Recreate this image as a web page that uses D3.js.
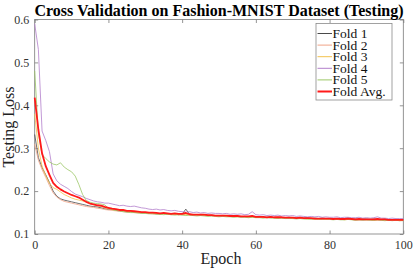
<!DOCTYPE html>
<html>
<head>
<meta charset="utf-8">
<script src="https://cdn.jsdelivr.net/npm/d3@7"></script>
<style>
  body { margin: 0; background: #fff; }
  text { font-family: "Liberation Serif", "Times New Roman", serif; }
</style>
</head>
<body>
<script>
var width = 415;
var height = 271;

// loss values per epoch, 0..100
var fold1 = [0.332,0.278,0.255,0.238,0.220,0.200,0.188,0.182,0.179,0.177,0.175,0.173,0.171,0.169,0.167,0.165,0.164,0.163,0.161,0.159,
  0.157,0.158,0.155,0.154,0.153,0.152,0.152,0.150,0.151,0.149,0.149,0.148,0.149,0.147,0.147,0.148,0.146,0.146,0.147,0.145,
  0.146,0.158,0.146,0.145,0.145,0.144,0.145,0.143,0.144,0.143,0.142,0.143,0.142,0.141,0.142,0.141,0.140,0.141,0.140,0.141,
  0.139,0.140,0.139,0.139,0.140,0.138,0.139,0.138,0.138,0.139,0.137,0.138,0.137,0.137,0.138,0.136,0.137,0.136,0.137,0.136,
  0.136,0.135,0.136,0.135,0.136,0.137,0.135,0.135,0.134,0.135,0.135,0.134,0.135,0.134,0.134,0.135,0.133,0.134,0.134,0.133,0.133];
var fold2 = [0.310,0.272,0.250,0.232,0.213,0.196,0.186,0.180,0.176,0.174,0.172,0.170,0.168,0.166,0.164,0.163,0.162,0.160,0.159,0.157,
  0.156,0.155,0.154,0.153,0.152,0.151,0.150,0.150,0.149,0.149,0.148,0.148,0.147,0.147,0.146,0.147,0.146,0.145,0.146,0.145,
  0.145,0.146,0.144,0.145,0.144,0.143,0.144,0.143,0.142,0.143,0.142,0.141,0.142,0.141,0.140,0.141,0.140,0.140,0.139,0.140,
  0.139,0.139,0.138,0.139,0.138,0.138,0.137,0.138,0.137,0.137,0.137,0.136,0.137,0.136,0.136,0.136,0.135,0.136,0.135,0.135,
  0.135,0.134,0.135,0.134,0.134,0.134,0.134,0.133,0.134,0.133,0.133,0.134,0.133,0.133,0.132,0.133,0.132,0.133,0.132,0.132,0.132];
var fold3 = [0.380,0.300,0.258,0.236,0.218,0.208,0.204,0.198,0.192,0.188,0.184,0.181,0.179,0.177,0.174,0.171,0.168,0.166,0.164,0.161,
  0.159,0.157,0.156,0.155,0.154,0.153,0.152,0.151,0.150,0.150,0.149,0.149,0.148,0.148,0.147,0.147,0.146,0.147,0.146,0.145,
  0.146,0.145,0.145,0.144,0.145,0.144,0.143,0.144,0.143,0.142,0.143,0.142,0.141,0.142,0.141,0.140,0.141,0.140,0.140,0.139,
  0.140,0.139,0.139,0.138,0.139,0.138,0.137,0.138,0.137,0.137,0.136,0.137,0.136,0.136,0.135,0.136,0.135,0.135,0.136,0.134,
  0.135,0.134,0.134,0.135,0.133,0.134,0.134,0.133,0.133,0.134,0.133,0.133,0.132,0.133,0.133,0.132,0.133,0.132,0.132,0.131,0.132];
var fold4 = [0.590,0.530,0.340,0.318,0.292,0.240,0.224,0.216,0.211,0.206,0.199,0.193,0.190,0.187,0.183,0.180,0.177,0.175,0.174,0.172,
  0.172,0.170,0.168,0.166,0.167,0.165,0.164,0.165,0.163,0.161,0.160,0.158,0.157,0.158,0.156,0.157,0.155,0.154,0.155,0.153,
  0.152,0.151,0.152,0.150,0.151,0.149,0.150,0.148,0.149,0.148,0.148,0.147,0.148,0.146,0.147,0.146,0.147,0.145,0.146,0.152,
  0.145,0.144,0.145,0.143,0.144,0.143,0.144,0.142,0.143,0.142,0.143,0.141,0.142,0.141,0.140,0.141,0.140,0.141,0.139,0.140,
  0.139,0.139,0.140,0.138,0.139,0.139,0.138,0.138,0.139,0.137,0.138,0.137,0.138,0.140,0.137,0.137,0.136,0.137,0.136,0.136,0.136];
var fold5 = [0.480,0.335,0.285,0.276,0.268,0.263,0.261,0.266,0.256,0.250,0.245,0.235,0.215,0.192,0.178,0.174,0.172,0.171,0.170,0.168,
  0.160,0.157,0.155,0.154,0.152,0.151,0.150,0.150,0.149,0.148,0.148,0.147,0.147,0.146,0.146,0.145,0.146,0.145,0.144,0.145,
  0.144,0.143,0.144,0.143,0.142,0.143,0.142,0.141,0.142,0.141,0.140,0.141,0.140,0.140,0.139,0.140,0.139,0.139,0.138,0.139,
  0.138,0.138,0.137,0.138,0.137,0.137,0.136,0.137,0.136,0.136,0.136,0.135,0.136,0.135,0.135,0.134,0.135,0.134,0.134,0.135,
  0.134,0.133,0.134,0.133,0.133,0.134,0.133,0.132,0.133,0.132,0.133,0.132,0.132,0.133,0.132,0.131,0.132,0.131,0.132,0.131,0.131];
var foldAvg = [0.418,0.343,0.288,0.258,0.238,0.219,0.210,0.204,0.199,0.195,0.191,0.188,0.185,0.180,0.175,0.171,0.169,0.167,0.166,0.163,
  0.161,0.159,0.158,0.156,0.156,0.154,0.154,0.153,0.152,0.151,0.151,0.150,0.150,0.149,0.148,0.149,0.148,0.147,0.148,0.147,
  0.147,0.149,0.146,0.145,0.145,0.145,0.145,0.144,0.144,0.143,0.143,0.143,0.143,0.142,0.142,0.142,0.141,0.141,0.141,0.142,
  0.140,0.140,0.140,0.139,0.140,0.139,0.139,0.139,0.138,0.138,0.138,0.137,0.138,0.137,0.137,0.137,0.136,0.136,0.136,0.136,
  0.136,0.135,0.136,0.135,0.135,0.136,0.135,0.134,0.135,0.134,0.134,0.134,0.134,0.135,0.134,0.134,0.133,0.133,0.133,0.133,0.133];

var seriesNames = ['Fold 1', 'Fold 2', 'Fold 3', 'Fold 4', 'Fold 5', 'Fold Avg.'];
var seriesData = [fold1, fold2, fold3, fold4, fold5, foldAvg];
var seriesColors = ['#4a4a4a', '#f0a386', '#f3c24e', '#b27fcb', '#9cc767', '#ff1a1a'];
var seriesWidths = [0.8, 0.8, 0.8, 0.8, 0.8, 1.8];

var xTicks = [0, 20, 40, 60, 80, 100];
var yTicks = [0.1, 0.2, 0.3, 0.4, 0.5, 0.6];

var margin = {left: 34.7, right: 11.7, top: 19.5, bottom: 37};
var serif = '"Liberation Serif", "Times New Roman", serif';

var svg = d3.select('body')
    .append('svg')
    .attr('width', width)
    .attr('height', height);

var x = d3.scaleLinear().domain([0, 100]).range([margin.left, width - margin.right]);
var y = d3.scaleLinear().domain([0.1, 0.6]).range([height - margin.bottom, margin.top]);

var axisColor = '#7a7a7a';
var labelColor = '#333';

// box
svg.append('rect')
    .attr('x', x(0))
    .attr('y', y(0.6))
    .attr('width', x(100) - x(0))
    .attr('height', y(0.1) - y(0.6))
    .attr('fill', 'none')
    .attr('stroke', axisColor)
    .attr('stroke-width', 0.8);

// inward ticks, matlab style
var tl = 3.5;
function styleAxis(g) {
    g.attr('font-family', serif).attr('font-size', 12);
    g.select('.domain').remove();
    g.selectAll('.tick line').attr('stroke', axisColor).attr('stroke-width', 0.8);
    g.selectAll('.tick text').attr('fill', labelColor);
}

svg.append('g')
    .attr('transform', 'translate(0,' + y(0.1) + ')')
    .call(d3.axisBottom(x).tickValues(xTicks).tickSize(-tl).tickPadding(6.5).tickFormat(d3.format('d')))
    .call(styleAxis);
svg.append('g')
    .attr('transform', 'translate(0,' + y(0.6) + ')')
    .call(d3.axisTop(x).tickValues(xTicks).tickSize(-tl).tickFormat(''))
    .call(styleAxis);
svg.append('g')
    .attr('transform', 'translate(' + x(0) + ',0)')
    .call(d3.axisLeft(y).tickValues(yTicks).tickSize(-tl).tickPadding(5.5).tickFormat(d3.format('.1f')))
    .call(styleAxis);
svg.append('g')
    .attr('transform', 'translate(' + x(100) + ',0)')
    .call(d3.axisRight(y).tickValues(yTicks).tickSize(-tl).tickFormat(''))
    .call(styleAxis);

// lines
var line = d3.line()
    .x(function (d, i) { return x(i); })
    .y(function (d) { return y(d); });

svg.append('g')
    .selectAll('path')
    .data(seriesData)
    .enter()
    .append('path')
        .attr('d', line)
        .attr('fill', 'none')
        .attr('stroke', function (d, i) { return seriesColors[i]; })
        .attr('stroke-width', function (d, i) { return seriesWidths[i]; })
        .attr('stroke-linejoin', 'round');

// title and axis labels
svg.append('text')
    .attr('x', 219)
    .attr('y', 15.5)
    .attr('text-anchor', 'middle')
    .attr('font-family', serif)
    .style('font-size', '16px')
    .style('font-weight', 'bold')
    .attr('fill', '#000')
    .text('Cross Validation on Fashion-MNIST Dataset (Testing)');

svg.append('text')
    .attr('x', 221)
    .attr('y', 264)
    .attr('text-anchor', 'middle')
    .attr('font-family', serif)
    .style('font-size', '16px')
    .attr('fill', '#222')
    .text('Epoch');

svg.append('text')
    .attr('transform', 'translate(14,127) rotate(-90)')
    .attr('text-anchor', 'middle')
    .attr('font-family', serif)
    .style('font-size', '16px')
    .attr('fill', '#222')
    .text('Testing Loss');

// legend
var legend = svg.append('g').attr('transform', 'translate(316,23.5)');
legend.append('rect')
    .attr('width', 76)
    .attr('height', 76.5)
    .attr('fill', '#fff')
    .attr('stroke', '#8a8a8a')
    .attr('stroke-width', 0.8);

var rows = legend.selectAll('g.row')
    .data(seriesNames)
    .enter()
    .append('g')
        .attr('class', 'row')
        .attr('transform', function (d, i) { return 'translate(0,' + (10 + i * 11.6) + ')'; });

rows.append('line')
    .attr('x1', 1.5)
    .attr('x2', 16)
    .attr('stroke', function (d, i) { return seriesColors[i]; })
    .attr('stroke-width', function (d, i) { return seriesWidths[i] + 0.2; });

rows.append('text')
    .attr('x', 16.5)
    .attr('y', 4.5)
    .attr('font-family', serif)
    .style('font-size', '13.5px')
    .attr('fill', '#111')
    .text(function (d) { return d; });
</script>
</body>
</html>
